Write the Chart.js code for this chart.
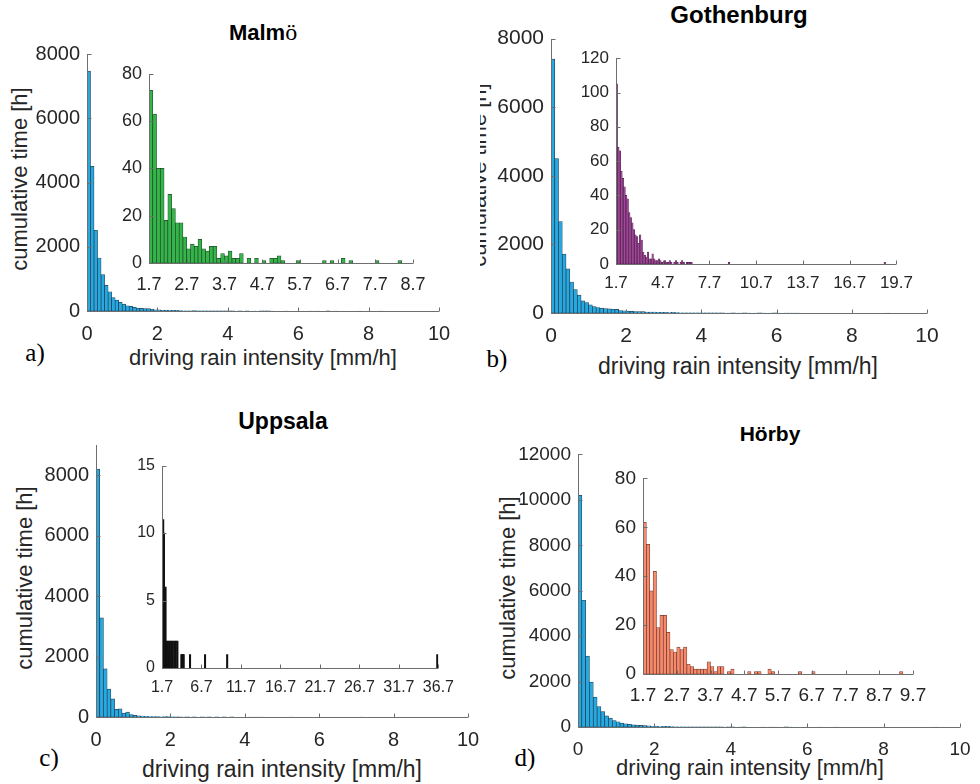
<!DOCTYPE html>
<html><head><meta charset="utf-8">
<script src="https://cdn.jsdelivr.net/npm/chart.js@4.4.1/dist/chart.umd.min.js"></script>
<style>
body{margin:0;background:#fff;}
#root{position:relative;width:980px;height:784px;overflow:hidden;font-family:"Liberation Sans",Arial,sans-serif;color:#262626;background:#fff}
canvas{position:absolute}
.t{position:absolute;white-space:nowrap;transform:translate(-50%,-50%);line-height:1}
.title{font-weight:bold;font-size:22px;color:#000}
.axt{font-size:22px;color:#262626}
.rot{transform:translate(-50%,-50%) rotate(-90deg)}
.lett{font-family:"Liberation Serif","Times New Roman",serif;font-size:25px;color:#000}
.clip{position:absolute;overflow:hidden}
</style></head><body><div id="root">
<div class="t title" style="left:263px;top:32px">Malm<span style="font-family:'Liberation Serif',serif;font-weight:normal;font-size:24px">ö</span></div>
<div class="t title" style="left:739px;top:15px;font-size:24px">Gothenburg</div>
<div class="t title" style="left:283px;top:421px;font-size:23px">Uppsala</div>
<div class="t title" style="left:770px;top:433px;font-size:21px">Hörby</div>
<div class="t axt" style="left:263px;top:358px">driving rain intensity [mm/h]</div>
<div class="t axt" style="left:738px;top:366px;font-size:23px">driving rain intensity [mm/h]</div>
<div class="t axt" style="left:282px;top:769px;font-size:23px">driving rain intensity [mm/h]</div>
<div class="t axt" style="left:750px;top:768px">driving rain intensity [mm/h]</div>
<div class="t axt rot" style="left:20px;top:179px">cumulative time [h]</div>
<div class="clip" style="left:480px;top:0;width:40px;height:390px"><div class="t axt rot" style="left:-1px;top:175px">cumulative time [h]</div></div>
<div class="t axt rot" style="left:25px;top:578px">cumulative time [h]</div>
<div class="t axt rot" style="left:508px;top:588px">cumulative time [h]</div>
<div class="t lett" style="left:35px;top:352px">a)</div>
<div class="t lett" style="left:497px;top:358px">b)</div>
<div class="t lett" style="left:49px;top:757px">c)</div>
<div class="t lett" style="left:525px;top:757px">d)</div>
</div>
<script>
// ---------------- DATA ----------------
const BIN_WIDTH = 0.1;            // mm/h
const MAIN_START = 0;             // main histograms start at 0
const INSET_START = 1.7;          // insets start at 1.7 mm/h

const MAIN_X_TICKS = [0, 2, 4, 6, 8, 10];
const Y_TICKS_8000 = [0, 2000, 4000, 6000, 8000];
const Y_TICKS_12000 = [0, 2000, 4000, 6000, 8000, 10000, 12000];

// Malmö
const MALMO_MAIN_HEAD = [7470, 4505, 2514, 1650, 1134, 800, 600, 418, 337, 266, 215, 164, 143, 112, 92, 82, 77];
const MALMO_INSET = [73, 63, 40, 40, 18, 29, 23, 17, 17, 11, 6, 8, 7, 10, 6, 5, 7, 7, 2, 4, 3, 5, 2, 2, 4, 0, 2, 0, 2, 0, 1, 0, 2, 2, 3, 1, 0, 0, 0, 1];
const MALMO_TAIL_BINS = [6.3, 6.5, 6.8, 7.0, 7.7, 8.3];
const MALMO_TAIL_COUNTS = [1, 1, 2, 1, 1, 1];
const MALMO_INSET_X_TICKS = [1.7, 2.7, 3.7, 4.7, 5.7, 6.7, 7.7, 8.7];
const MALMO_INSET_Y_TICKS = [0, 20, 40, 60, 80];

// Gothenburg
const GOT_MAIN_HEAD = [7400, 4505, 2667, 1714, 1286, 905, 686, 524, 352, 305, 238, 190, 160, 140, 128, 118, 110];
const GOT_INSET = [105, 68, 66, 54, 50, 45, 40, 38, 30, 27, 24, 20, 17, 16, 12, 17, 14, 7, 5, 4, 7, 3, 3, 6, 3, 2, 2, 3, 2, 1, 1, 2, 1, 1, 2, 1, 0, 1, 2, 1, 0, 1, 2, 1, 0, 1, 1, 1, 1];
const GOT_TAIL_BINS = [8.9, 18.9];
const GOT_TAIL_COUNTS = [1, 1];
const GOT_INSET_X_TICKS = [1.7, 4.7, 7.7, 10.7, 13.7, 16.7, 19.7];
const GOT_INSET_Y_TICKS = [0, 20, 40, 60, 80, 100, 120];

// Uppsala
const UPP_MAIN_HEAD = [8200, 3280, 1590, 920, 600, 250, 270, 130, 160, 76, 54, 40, 30, 22, 16, 12, 10];
const UPP_INSET = [8, 11, 10, 4, 6, 2, 1, 2, 1, 2, 0, 2, 1, 2, 0, 2, 0, 2, 0, 2, 0, 0, 0, 0, 1, 1, 1, 1];
const UPP_TAIL_BINS = [5.2, 7.1, 9.9, 36.5];
const UPP_TAIL_COUNTS = [1, 1, 1, 1];
const UPP_INSET_X_TICKS = [1.7, 6.7, 11.7, 16.7, 21.7, 26.7, 31.7, 36.7];
const UPP_INSET_Y_TICKS = [0, 5, 10, 15];

// Hörby
const HOR_MAIN_HEAD = [10200, 5580, 3120, 1976, 1310, 900, 680, 490, 390, 288, 231, 173, 144, 115, 95, 80, 70];
const HOR_INSET = [62, 53, 34, 42, 19, 24, 24, 17, 10, 9, 11, 10, 11, 4, 3, 2, 2, 2, 2, 5, 3, 1, 3, 3, 0, 1, 2, 0, 0, 0, 0, 1, 0, 1, 1, 0, 0, 2, 1];
const HOR_TAIL_BINS = [6.3, 6.7, 9.3];
const HOR_TAIL_COUNTS = [1, 1, 1];
const HOR_INSET_X_TICKS = [1.7, 2.7, 3.7, 4.7, 5.7, 6.7, 7.7, 8.7, 9.7];
const HOR_INSET_Y_TICKS = [0, 20, 40, 60, 80];

// ---------------- BUILD ----------------
const FONT = 'Liberation Sans, Arial, sans-serif';
const TXT = '#262626';
const AXIS = '#6e6e6e';

function binPoints(start, counts, tailBins, tailCounts) {
  const pts = [];
  counts.forEach((c, i) => { if (c > 0) pts.push({ x: +(start + i * BIN_WIDTH + BIN_WIDTH / 2).toFixed(4), y: c }); });
  (tailBins || []).forEach((b, k) => { if (tailCounts[k] > 0) pts.push({ x: +(b + BIN_WIDTH / 2).toFixed(4), y: tailCounts[k] }); });
  return pts;
}

const axesPlugin = {
  id: 'matlabAxes',
  afterDraw(chart) {
    const { ctx, chartArea: a, scales: { x, y } } = chart;
    ctx.save();
    ctx.strokeStyle = AXIS; ctx.lineWidth = 1;
    ctx.beginPath();
    const L = Math.round(a.left) + 0.5, B = Math.round(a.bottom) + 0.5;
    ctx.moveTo(L, Math.round(a.top)); ctx.lineTo(L, B);
    ctx.lineTo(Math.round(a.right), B);
    x.ticks.forEach(t => { const p = Math.round(x.getPixelForValue(t.value)) + 0.5; ctx.moveTo(p, B); ctx.lineTo(p, B - 4); });
    y.ticks.forEach(t => { const p = Math.round(y.getPixelForValue(t.value)) + 0.5; ctx.moveTo(L, p); ctx.lineTo(L + 4, p); });
    ctx.stroke();
    ctx.restore();
  }
};

function makeChart(o) {
  const left = o.area.L - o.yw, top = o.area.T - o.pt;
  const w = o.area.R + o.pr - left, h = o.area.B + o.xh - top;
  const cv = document.createElement('canvas');
  cv.width = w; cv.height = h;
  cv.style.left = left + 'px'; cv.style.top = top + 'px';
  cv.style.width = w + 'px'; cv.style.height = h + 'px';
  document.getElementById('root').appendChild(cv);
  const ds = {
    data: o.points,
    backgroundColor: o.color,
    borderColor: o.edge,
    borderWidth: o.edgeWidth,
    borderSkipped: false,
    barPercentage: 1,
    categoryPercentage: 1,
  };
  if (o.barThickness) ds.barThickness = o.barThickness;
  new Chart(cv, {
    type: 'bar',
    data: { datasets: [ds] },
    options: {
      responsive: false, animation: false, maintainAspectRatio: false,
      layout: { padding: { left: 0, top: o.pt, right: o.pr, bottom: 0 } },
      plugins: { legend: { display: false }, tooltip: { enabled: false }, title: { display: false } },
      scales: {
        x: {
          type: 'linear', min: o.xmin, max: o.xmax, offset: false,
          grid: { display: false, drawTicks: false, offset: false }, border: { display: false },
          afterBuildTicks: s => { s.ticks = o.xticks.map(v => ({ value: v })); },
          afterFit: s => { s.height = o.xh; },
          ticks: { autoSkip: false, maxRotation: 0, minRotation: 0, padding: o.xpad, color: TXT,
            font: { family: FONT, size: o.fs }, callback: v => String(v) }
        },
        y: {
          min: 0, max: o.ymax,
          grid: { display: false, drawTicks: false }, border: { display: false },
          afterBuildTicks: s => { s.ticks = o.yticks.map(v => ({ value: v })); },
          afterFit: s => { s.width = o.yw; },
          ticks: { autoSkip: false, padding: o.ypad, color: TXT,
            font: { family: FONT, size: o.fs }, callback: v => String(v) }
        }
      }
    },
    plugins: [axesPlugin]
  });
}

const BLUE = '#26a8e0', BLUE_EDGE = 'rgba(15,45,70,0.9)';
const MAIN = { yw: 72, xh: 36, pt: 14, pr: 26, fs: 20, xpad: 11, ypad: 7, xmin: 0, xmax: 10, xticks: MAIN_X_TICKS,
  color: BLUE, edge: BLUE_EDGE, edgeWidth: 0.7 };
const INSET = { yw: 52, xh: 32, pt: 12, pr: 24, xpad: 11, ypad: 7, edgeWidth: 0.7 };

// Malmö
makeChart(Object.assign({}, MAIN, { area: { L: 87, T: 49, R: 439, B: 311 }, ymax: 8000, yticks: Y_TICKS_8000,
  points: binPoints(MAIN_START, MALMO_MAIN_HEAD.concat(MALMO_INSET), MALMO_TAIL_BINS, MALMO_TAIL_COUNTS) }));
makeChart(Object.assign({}, INSET, { area: { L: 149, T: 68, R: 413, B: 263 }, fs: 18, xmin: 1.7, xmax: 8.7,
  xticks: MALMO_INSET_X_TICKS, ymax: 80, yticks: MALMO_INSET_Y_TICKS, color: '#35b44a', edge: 'rgba(10,60,20,0.9)',
  points: binPoints(INSET_START, MALMO_INSET, MALMO_TAIL_BINS, MALMO_TAIL_COUNTS) }));

// Gothenburg
makeChart(Object.assign({}, MAIN, { area: { L: 551, T: 33, R: 927, B: 313 }, fs: 21, ymax: 8000, yticks: Y_TICKS_8000,
  points: binPoints(MAIN_START, GOT_MAIN_HEAD.concat(GOT_INSET), GOT_TAIL_BINS, GOT_TAIL_COUNTS) }));
makeChart(Object.assign({}, INSET, { area: { L: 616, T: 53, R: 898, B: 264 }, fs: 17, xpad: 9, xmin: 1.7, xmax: 19.7,
  xticks: GOT_INSET_X_TICKS, ymax: 120, yticks: GOT_INSET_Y_TICKS, color: '#a5489c', edge: 'rgba(50,10,45,0.9)', edgeWidth: 0.5,
  points: binPoints(INSET_START, GOT_INSET, GOT_TAIL_BINS, GOT_TAIL_COUNTS) }));

// Uppsala
makeChart(Object.assign({}, MAIN, { area: { L: 96, T: 440, R: 468, B: 717 }, ymax: 9000, yticks: Y_TICKS_8000,
  points: binPoints(MAIN_START, UPP_MAIN_HEAD.concat(UPP_INSET), UPP_TAIL_BINS, UPP_TAIL_COUNTS) }));
makeChart(Object.assign({}, INSET, { area: { L: 162, T: 461, R: 440, B: 668 }, fs: 16, xpad: 10, xmin: 1.7, xmax: 36.7,
  xticks: UPP_INSET_X_TICKS, ymax: 15, yticks: UPP_INSET_Y_TICKS, color: '#111111', edge: '#111111', edgeWidth: 0,
  barThickness: 1.4,
  points: binPoints(INSET_START, UPP_INSET, UPP_TAIL_BINS, UPP_TAIL_COUNTS) }));

// Hörby
makeChart(Object.assign({}, MAIN, { area: { L: 578, T: 450, R: 960, B: 727 }, fs: 19, ymax: 12000, yticks: Y_TICKS_12000,
  points: binPoints(MAIN_START, HOR_MAIN_HEAD.concat(HOR_INSET), HOR_TAIL_BINS, HOR_TAIL_COUNTS) }));
makeChart(Object.assign({}, INSET, { area: { L: 643, T: 472, R: 913, B: 674 }, fs: 19, xpad: 10, xmin: 1.7, xmax: 9.7,
  xticks: HOR_INSET_X_TICKS, ymax: 80, yticks: HOR_INSET_Y_TICKS, color: '#f58a6c', edge: 'rgba(110,40,25,0.9)',
  points: binPoints(INSET_START, HOR_INSET, HOR_TAIL_BINS, HOR_TAIL_COUNTS) }));
</script>
</body></html>
